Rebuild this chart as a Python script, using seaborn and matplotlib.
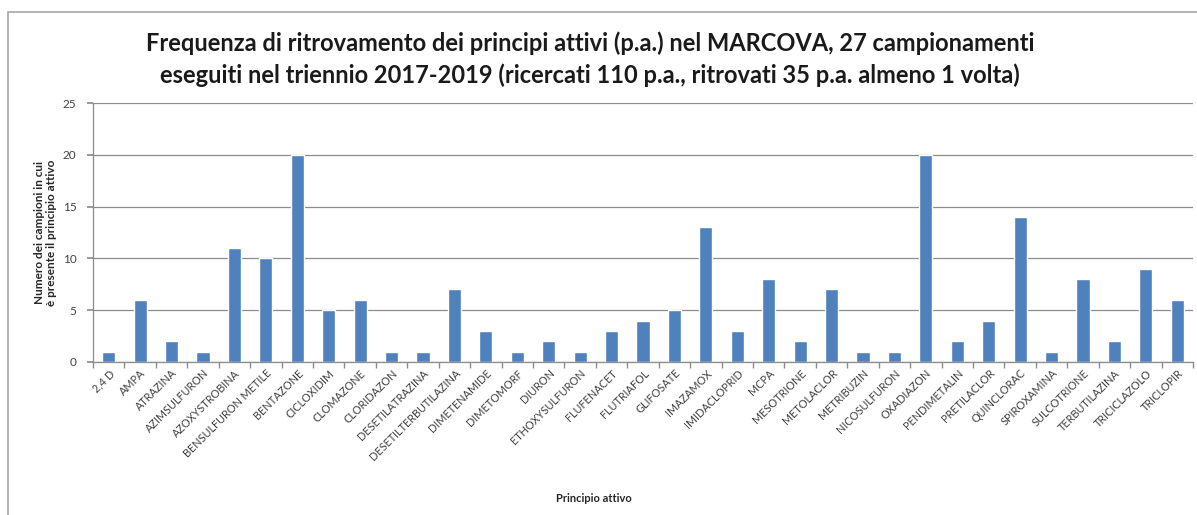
import matplotlib
matplotlib.use("Agg")
import matplotlib.pyplot as plt
import seaborn as sns
import pandas as pd
import numpy as np
from matplotlib.patches import Rectangle

categories = ["2,4 D", "AMPA", "ATRAZINA", "AZIMSULFURON", "AZOXYSTROBINA", "BENSULFURON METILE",
              "BENTAZONE", "CICLOXIDIM", "CLOMAZONE", "CLORIDAZON", "DESETILATRAZINA",
              "DESETILTERBUTILAZINA", "DIMETENAMIDE", "DIMETOMORF", "DIURON", "ETHOXYSULFURON",
              "FLUFENACET", "FLUTRIAFOL", "GLIFOSATE", "IMAZAMOX", "IMIDACLOPRID", "MCPA",
              "MESOTRIONE", "METOLACLOR", "METRIBUZIN", "NICOSULFURON", "OXADIAZON",
              "PENDIMETALIN", "PRETILACLOR", "QUINCLORAC", "SPIROXAMINA", "SULCOTRIONE",
              "TERBUTILAZINA", "TRICICLAZOLO", "TRICLOPIR"]
values = [1, 6, 2, 1, 11, 10, 20, 5, 6, 1, 1, 7, 3, 1, 2, 1, 3, 4, 5, 13, 3, 8, 2, 7, 1, 1,
          20, 2, 4, 14, 1, 8, 2, 9, 6]
yticks = [0, 5, 10, 15, 20, 25]

title = ("Frequenza di ritrovamento dei principi attivi (p.a.) nel MARCOVA, 27 campionamenti\n"
         "eseguiti nel triennio 2017-2019 (ricercati 110 p.a., ritrovati 35 p.a. almeno 1 volta)")
ylabel = "Numero dei campioni in cui\nè presente il principio attivo"
xlabel = "Principio attivo"

sns.set_theme(style="white")
plt.rcParams['font.family'] = ['Lato', 'DejaVu Sans']

df = pd.DataFrame({"cat": categories, "val": values})

fig = plt.figure(figsize=(11.97, 5.15), dpi=100)
ax = fig.add_axes([93/1197, 1 - 362/515, 1100/1197, (362-103)/515])

sns.barplot(data=df, x="cat", y="val", color="#4F81BD", saturation=1, width=0.42, ax=ax)

ax.set_ylim(0, 25)
ax.set_xlim(-0.5, len(categories) - 0.5)
ax.set_yticks(yticks)
ax.set_yticklabels([str(t) for t in yticks], fontsize=8.5, color="#404040")
ax.yaxis.grid(True, color="#8c8c8c", linewidth=0.9)
ax.set_axisbelow(True)
for s in ["top", "right"]:
    ax.spines[s].set_visible(False)
for s in ["left", "bottom"]:
    ax.spines[s].set_color("#8c8c8c")
    ax.spines[s].set_linewidth(0.9)

ax.set_xticks(range(len(categories)))
ax.set_xticklabels(categories, rotation=45, ha="right", rotation_mode="anchor",
                   fontsize=7.8, color="#404040")
ax.tick_params(axis="x", length=0, pad=4)
ax.tick_params(axis="y", length=4, color="#8c8c8c", left=True, pad=8)
# category boundary tick marks
ax.set_xticks(np.arange(-0.5, len(categories), 1), minor=True)
ax.tick_params(axis="x", which="minor", length=4, color="#8c8c8c", bottom=True)

ax.set_xlabel(xlabel, fontsize=8, fontweight="bold", color="#262626", labelpad=0)
ax.xaxis.set_label_coords(0.455, -0.505)
ax.set_ylabel(ylabel, fontsize=8.5, fontweight="bold", color="#262626", labelpad=4,
              linespacing=1.1)

fig.text(0.493, 0.832, title, ha="center", va="bottom", fontsize=17, fontweight="bold",
         color="#1a1a1a", linespacing=1.4)

# outer chart border
fig.patches.append(Rectangle((8/1197, -0.05), 1.2, 1 - 12/515 + 0.05, transform=fig.transFigure,
                             fill=False, edgecolor="#a6a6a6", linewidth=1.2))

fig.savefig("out.png", dpi=100, facecolor="white")
